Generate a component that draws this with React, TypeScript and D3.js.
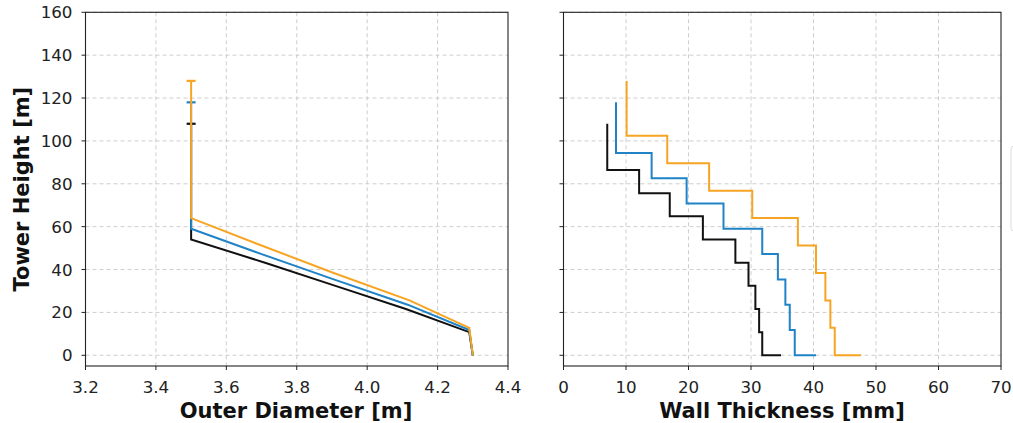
import React from "react";
import * as d3 from "d3";

// Tower designs: section node heights [m]
const heightsBlack = [0, 10.8, 21.6, 32.4, 43.2, 54.0, 64.8, 75.6, 86.4, 108];
const heightsBlue = [0, 11.8, 23.6, 35.4, 47.2, 59.0, 70.8, 82.6, 94.4, 118];
const heightsOrange = [0, 12.8, 25.6, 38.4, 51.2, 64.0, 76.8, 89.6, 102.4, 128];

// Outer diameter at each node [m]
const diameterBlack = [4.3, 4.29, 4.11, 3.91, 3.71, 3.5, 3.5, 3.5, 3.5, 3.5];
const diameterBlue = [4.3, 4.29, 4.115, 3.905, 3.7, 3.5, 3.5, 3.5, 3.5, 3.5];
const diameterOrange = [4.3, 4.29, 4.12, 3.905, 3.7, 3.5, 3.5, 3.5, 3.5, 3.5];

// Wall thickness per node [mm]
const thickBlack = [34.8, 31.8, 31.3, 30.7, 29.6, 27.5, 22.3, 17.0, 12.1, 7.0];
const thickBlue = [40.4, 37.0, 36.2, 35.5, 34.3, 31.8, 25.6, 19.7, 14.1, 8.4];
const thickOrange = [47.6, 43.4, 42.7, 41.9, 40.4, 37.5, 30.2, 23.3, 16.6, 10.1];

const diameterTicks = [3.2, 3.4, 3.6, 3.8, 4.0, 4.2, 4.4];
const thicknessTicks = [0, 10, 20, 30, 40, 50, 60, 70];
const heightTicks = [0, 20, 40, 60, 80, 100, 120, 140, 160];

const colors = { black: "#111111", blue: "#1f83c6", orange: "#f7a423" };

const series = [
  { color: colors.black, z: heightsBlack, d: diameterBlack, t: thickBlack },
  { color: colors.blue, z: heightsBlue, d: diameterBlue, t: thickBlue },
  { color: colors.orange, z: heightsOrange, d: diameterOrange, t: thickOrange },
];

const W = 1013;
const H = 423;
const FONT = "DejaVu Sans, sans-serif";
const top = 12.3;
const bottom = 366;

const y = d3.scaleLinear().domain([-5, 160]).range([bottom, top]);
const xD = d3.scaleLinear().domain([3.2, 4.4]).range([85.5, 508]);
const xT = d3.scaleLinear().domain([0, 70]).range([563.5, 1001]);

function Axes({ x, ticks, fmt, showYLabels }: { x: d3.ScaleLinear<number, number>; ticks: number[]; fmt: (v: number) => string; showYLabels: boolean }) {
  const [x0, x1] = x.range();
  return (
    <g>
      {ticks.slice(1, -1).map((v) => (
        <line key={"gx" + v} x1={x(v)} x2={x(v)} y1={top} y2={bottom} stroke="#c8c8c8" strokeWidth={0.9} strokeDasharray="4,3" />
      ))}
      {heightTicks.map((v) => (
        <line key={"gy" + v} x1={x0} x2={x1} y1={y(v)} y2={y(v)} stroke="#c8c8c8" strokeWidth={0.9} strokeDasharray="4,3" />
      ))}
      {ticks.map((v) => (
        <g key={"tx" + v}>
          <line x1={x(v)} x2={x(v)} y1={bottom} y2={bottom + 4} stroke="#222" strokeWidth={1} />
          <text x={x(v)} y={392.5} textAnchor="middle" fontFamily={FONT} fontSize={16.7} fill="#222">
            {fmt(v)}
          </text>
        </g>
      ))}
      {heightTicks.map((v) => (
        <g key={"ty" + v}>
          <line x1={x0 - 4} x2={x0} y1={y(v)} y2={y(v)} stroke="#222" strokeWidth={1} />
          {showYLabels && (
            <text x={x0 - 13} y={y(v)} dy="0.36em" textAnchor="end" fontFamily={FONT} fontSize={16.7} fill="#222">
              {v}
            </text>
          )}
        </g>
      ))}
    </g>
  );
}

function Frame({ x }: { x: d3.ScaleLinear<number, number> }) {
  const [x0, x1] = x.range();
  return <rect x={x0} y={top} width={x1 - x0} height={bottom - top} fill="none" stroke="#222" strokeWidth={1.1} />;
}

export default function App() {
  const diamLine = (s: (typeof series)[number]) =>
    d3
      .line<number>()
      .x((_, i) => xD(s.d[i]))
      .y((_, i) => y(s.z[i]))(s.z) as string;

  const thickLine = (s: (typeof series)[number]) =>
    d3
      .line<number>()
      .x((_, i) => xT(s.t[i]))
      .y((_, i) => y(s.z[i]))
      .curve(d3.curveStepAfter)(s.z) as string;

  return (
    <div style={{ position: "absolute", left: 0, top: 0 }}>
      <svg width={W} height={H} viewBox={`0 0 ${W} ${H}`} style={{ display: "block", background: "#fff" }}>
        <rect width={W} height={H} fill="#fff" />
        {/* partially visible legend box at the right edge */}
        <rect x={1011} y={146} width={60} height={85} rx={3} fill="#fff" stroke="#dcdcdc" strokeWidth={1} />

        <Axes x={xD} ticks={diameterTicks} fmt={(v) => v.toFixed(1)} showYLabels={true} />
        <Axes x={xT} ticks={thicknessTicks} fmt={(v) => String(v)} showYLabels={false} />

        {/* outer diameter profiles */}
        {series.map((s, i) => {
          const last = s.z.length - 1;
          const cx = xD(s.d[last]);
          const cy = y(s.z[last]);
          return (
            <g key={"d" + i}>
              <path d={diamLine(s)} fill="none" stroke={s.color} strokeWidth={2} strokeLinejoin="miter" />
              <line x1={cx - 4.5} x2={cx + 4.5} y1={cy} y2={cy} stroke={s.color} strokeWidth={2.2} />
            </g>
          );
        })}

        {/* wall thickness profiles */}
        {series.map((s, i) => (
          <path key={"t" + i} d={thickLine(s)} fill="none" stroke={s.color} strokeWidth={2} />
        ))}

        <Frame x={xD} />
        <Frame x={xT} />

        <text x={296} y={418} textAnchor="middle" fontFamily={FONT} fontSize={21} fontWeight="bold" fill="#111">
          Outer Diameter [m]
        </text>
        <text x={782} y={418} textAnchor="middle" fontFamily={FONT} fontSize={21} fontWeight="bold" fill="#111">
          Wall Thickness [mm]
        </text>
        <text
          transform={`translate(29,${(top + bottom) / 2}) rotate(-90)`}
          textAnchor="middle"
          fontFamily={FONT}
          fontSize={21}
          fontWeight="bold"
          fill="#111"
        >
          Tower Height [m]
        </text>
      </svg>
    </div>
  );
}
